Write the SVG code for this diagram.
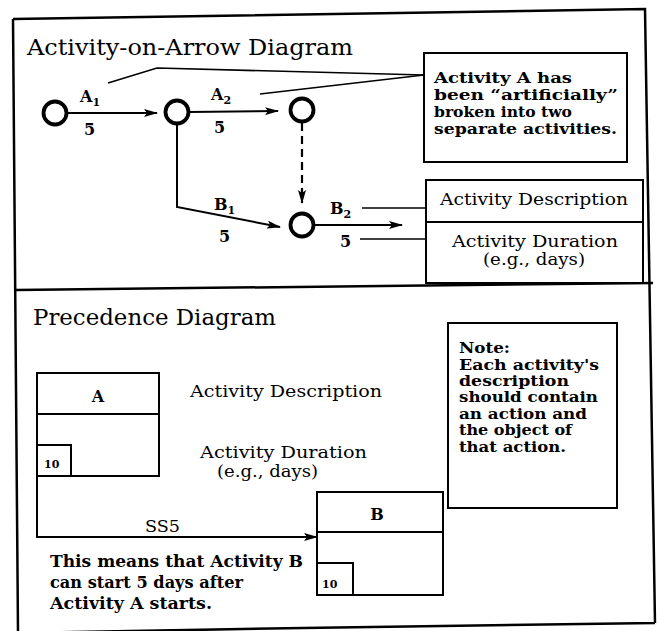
<svg xmlns="http://www.w3.org/2000/svg" width="661" height="631" viewBox="0 0 661 631">
  <style>
    text { font-family: "DejaVu Serif", "Liberation Serif", serif; fill: #000; }
    .title { font-size: 22px; }
    .body { font-size: 17px; }
    .bold { font-size: 16.5px; font-weight: bold; }
    .tight { font-size: 15px; font-weight: bold; }
    .lbl { font-size: 16px; font-weight: bold; }
    .sub { font-size: 11px; font-weight: bold; }
    .small { font-size: 11px; font-weight: bold; }
    .frame { fill: none; stroke: #000; stroke-width: 2.5; }
    .box { fill: #fff; stroke: #000; stroke-width: 2; }
    .line { fill: none; stroke: #000; stroke-width: 2; }
    .thin { fill: none; stroke: #000; stroke-width: 1.6; }
    .dash { fill: none; stroke: #000; stroke-width: 2.2; stroke-dasharray: 8 5; }
    .node { fill: #fff; stroke: #000; stroke-width: 3.8; }
    .mid { text-anchor: middle; }
  </style>
  <defs>
    <marker id="arrow" viewBox="0 0 14 8" refX="13" refY="4" markerWidth="14" markerHeight="8" markerUnits="userSpaceOnUse" orient="auto">
      <path d="M0,0 L14,4 L0,8 L3,4 z" fill="#000"/>
    </marker>
  </defs>

  <rect width="661" height="631" fill="#fff"/>

  <!-- outer frame and section divider -->
  <g id="frame">
    <path class="frame" d="M13,19 L645,9 L655,623 M655,623 L303,628 L18,633 M13,19 L18,633"/>
    <path class="frame" d="M16,290 L653,283"/>
  </g>

  <!-- ===== Activity-on-Arrow section ===== -->
  <text class="title" x="27" y="55" textLength="326" lengthAdjust="spacingAndGlyphs">Activity-on-Arrow Diagram</text>

  <g id="connectors">
    <!-- activity arrows -->
    <line class="line" x1="67" y1="113" x2="157" y2="113" marker-end="url(#arrow)"/>
    <line class="line" x1="189" y1="112" x2="278" y2="111" marker-end="url(#arrow)"/>
    <polyline class="line" points="177,124 177,207 280,227" marker-end="url(#arrow)"/>
    <line class="dash" x1="302" y1="123" x2="302" y2="203" marker-end="url(#arrow)"/>
    <line class="line" x1="315" y1="225" x2="402" y2="225" marker-end="url(#arrow)"/>
    <!-- callout leaders -->
    <polyline class="thin" points="108,83 157,68 424,75"/>
    <line class="thin" x1="260" y1="94" x2="424" y2="75"/>
    <!-- legend leaders -->
    <line class="thin" x1="362" y1="208" x2="426" y2="208"/>
    <line class="thin" x1="360" y1="239" x2="426" y2="239"/>
    <!-- precedence link SS5 -->
    <polyline class="line" points="37,476 37,537 317,537" marker-end="url(#arrow)"/>
  </g>

  <g id="node1"><circle class="node" cx="55" cy="113" r="11.5"/></g>
  <g id="node2"><circle class="node" cx="177" cy="112" r="11.5"/></g>
  <g id="node3"><circle class="node" cx="302" cy="110" r="11.5"/></g>
  <g id="node4"><circle class="node" cx="302" cy="225" r="11.5"/></g>

  <!-- activity labels -->
  <g id="labels">
    <text class="lbl" x="80" y="102">A<tspan class="sub" dy="4">1</tspan></text>
    <text class="lbl" x="84" y="135">5</text>
    <text class="lbl" x="211" y="100">A<tspan class="sub" dy="4">2</tspan></text>
    <text class="lbl" x="214" y="133">5</text>
    <text class="lbl" x="214" y="210">B<tspan class="sub" dy="4">1</tspan></text>
    <text class="lbl" x="219" y="242">5</text>
    <text class="lbl" x="330" y="214">B<tspan class="sub" dy="4">2</tspan></text>
    <text class="lbl" x="340" y="247">5</text>
  </g>

  <g id="callout">
    <rect class="box" x="424" y="53" width="203" height="109"/>
    <text class="tight" x="434" y="83" textLength="138" lengthAdjust="spacingAndGlyphs">Activity A has</text>
    <text class="tight" x="434" y="100" textLength="184" lengthAdjust="spacingAndGlyphs">been “artificially”</text>
    <text class="tight" x="434" y="117" textLength="138" lengthAdjust="spacingAndGlyphs">broken into two</text>
    <text class="tight" x="434" y="134" textLength="183" lengthAdjust="spacingAndGlyphs">separate activities.</text>
  </g>

  <g id="legend">
    <rect class="box" x="426" y="180" width="217" height="103"/>
    <line class="line" x1="426" y1="222" x2="643" y2="222"/>
    <text class="body" x="440" y="205" textLength="188" lengthAdjust="spacingAndGlyphs">Activity Description</text>
    <text class="body" x="452" y="247" textLength="166" lengthAdjust="spacingAndGlyphs">Activity Duration</text>
    <text class="body" x="483" y="265" textLength="102" lengthAdjust="spacingAndGlyphs">(e.g., days)</text>
  </g>

  <!-- ===== Precedence section ===== -->
  <text class="title" x="33" y="325" textLength="243" lengthAdjust="spacingAndGlyphs">Precedence Diagram</text>

  <g id="taskA">
    <rect class="box" x="37" y="373" width="122" height="103"/>
    <line class="line" x1="37" y1="414" x2="159" y2="414"/>
    <rect class="box" x="37" y="445" width="34" height="31"/>
    <text class="lbl mid" x="98" y="402">A</text>
    <text class="small" x="44" y="468">10</text>
  </g>

  <g id="legend2">
    <text class="body" x="190" y="397" textLength="192" lengthAdjust="spacingAndGlyphs">Activity Description</text>
    <text class="body" x="200" y="458" textLength="167" lengthAdjust="spacingAndGlyphs">Activity Duration</text>
    <text class="body" x="217" y="477" textLength="101" lengthAdjust="spacingAndGlyphs">(e.g., days)</text>
  </g>

  <g id="taskB">
    <rect class="box" x="317" y="492" width="126" height="103"/>
    <line class="line" x1="317" y1="532" x2="443" y2="532"/>
    <rect class="box" x="317" y="563" width="36" height="32"/>
    <text class="lbl mid" x="377" y="520">B</text>
    <text class="small" x="322" y="588">10</text>
  </g>

  <text class="body" x="145" y="532" textLength="35" lengthAdjust="spacingAndGlyphs">SS5</text>

  <g id="explanation">
    <text class="bold" x="50" y="567" textLength="253" lengthAdjust="spacingAndGlyphs">This means that Activity B</text>
    <text class="bold" x="50" y="588" textLength="193" lengthAdjust="spacingAndGlyphs">can start 5 days after</text>
    <text class="bold" x="50" y="609" textLength="162" lengthAdjust="spacingAndGlyphs">Activity A starts.</text>
  </g>

  <g id="note">
    <rect class="box" x="448" y="323" width="169" height="185"/>
    <text class="tight" x="459" y="353" textLength="51" lengthAdjust="spacingAndGlyphs">Note:</text>
    <text class="tight" x="459" y="370" textLength="140" lengthAdjust="spacingAndGlyphs">Each activity's</text>
    <text class="tight" x="459" y="386" textLength="110" lengthAdjust="spacingAndGlyphs">description</text>
    <text class="tight" x="459" y="402" textLength="139" lengthAdjust="spacingAndGlyphs">should contain</text>
    <text class="tight" x="459" y="419" textLength="128" lengthAdjust="spacingAndGlyphs">an action and</text>
    <text class="tight" x="459" y="435" textLength="113" lengthAdjust="spacingAndGlyphs">the object of</text>
    <text class="tight" x="459" y="452" textLength="107" lengthAdjust="spacingAndGlyphs">that action.</text>
  </g>
</svg>
